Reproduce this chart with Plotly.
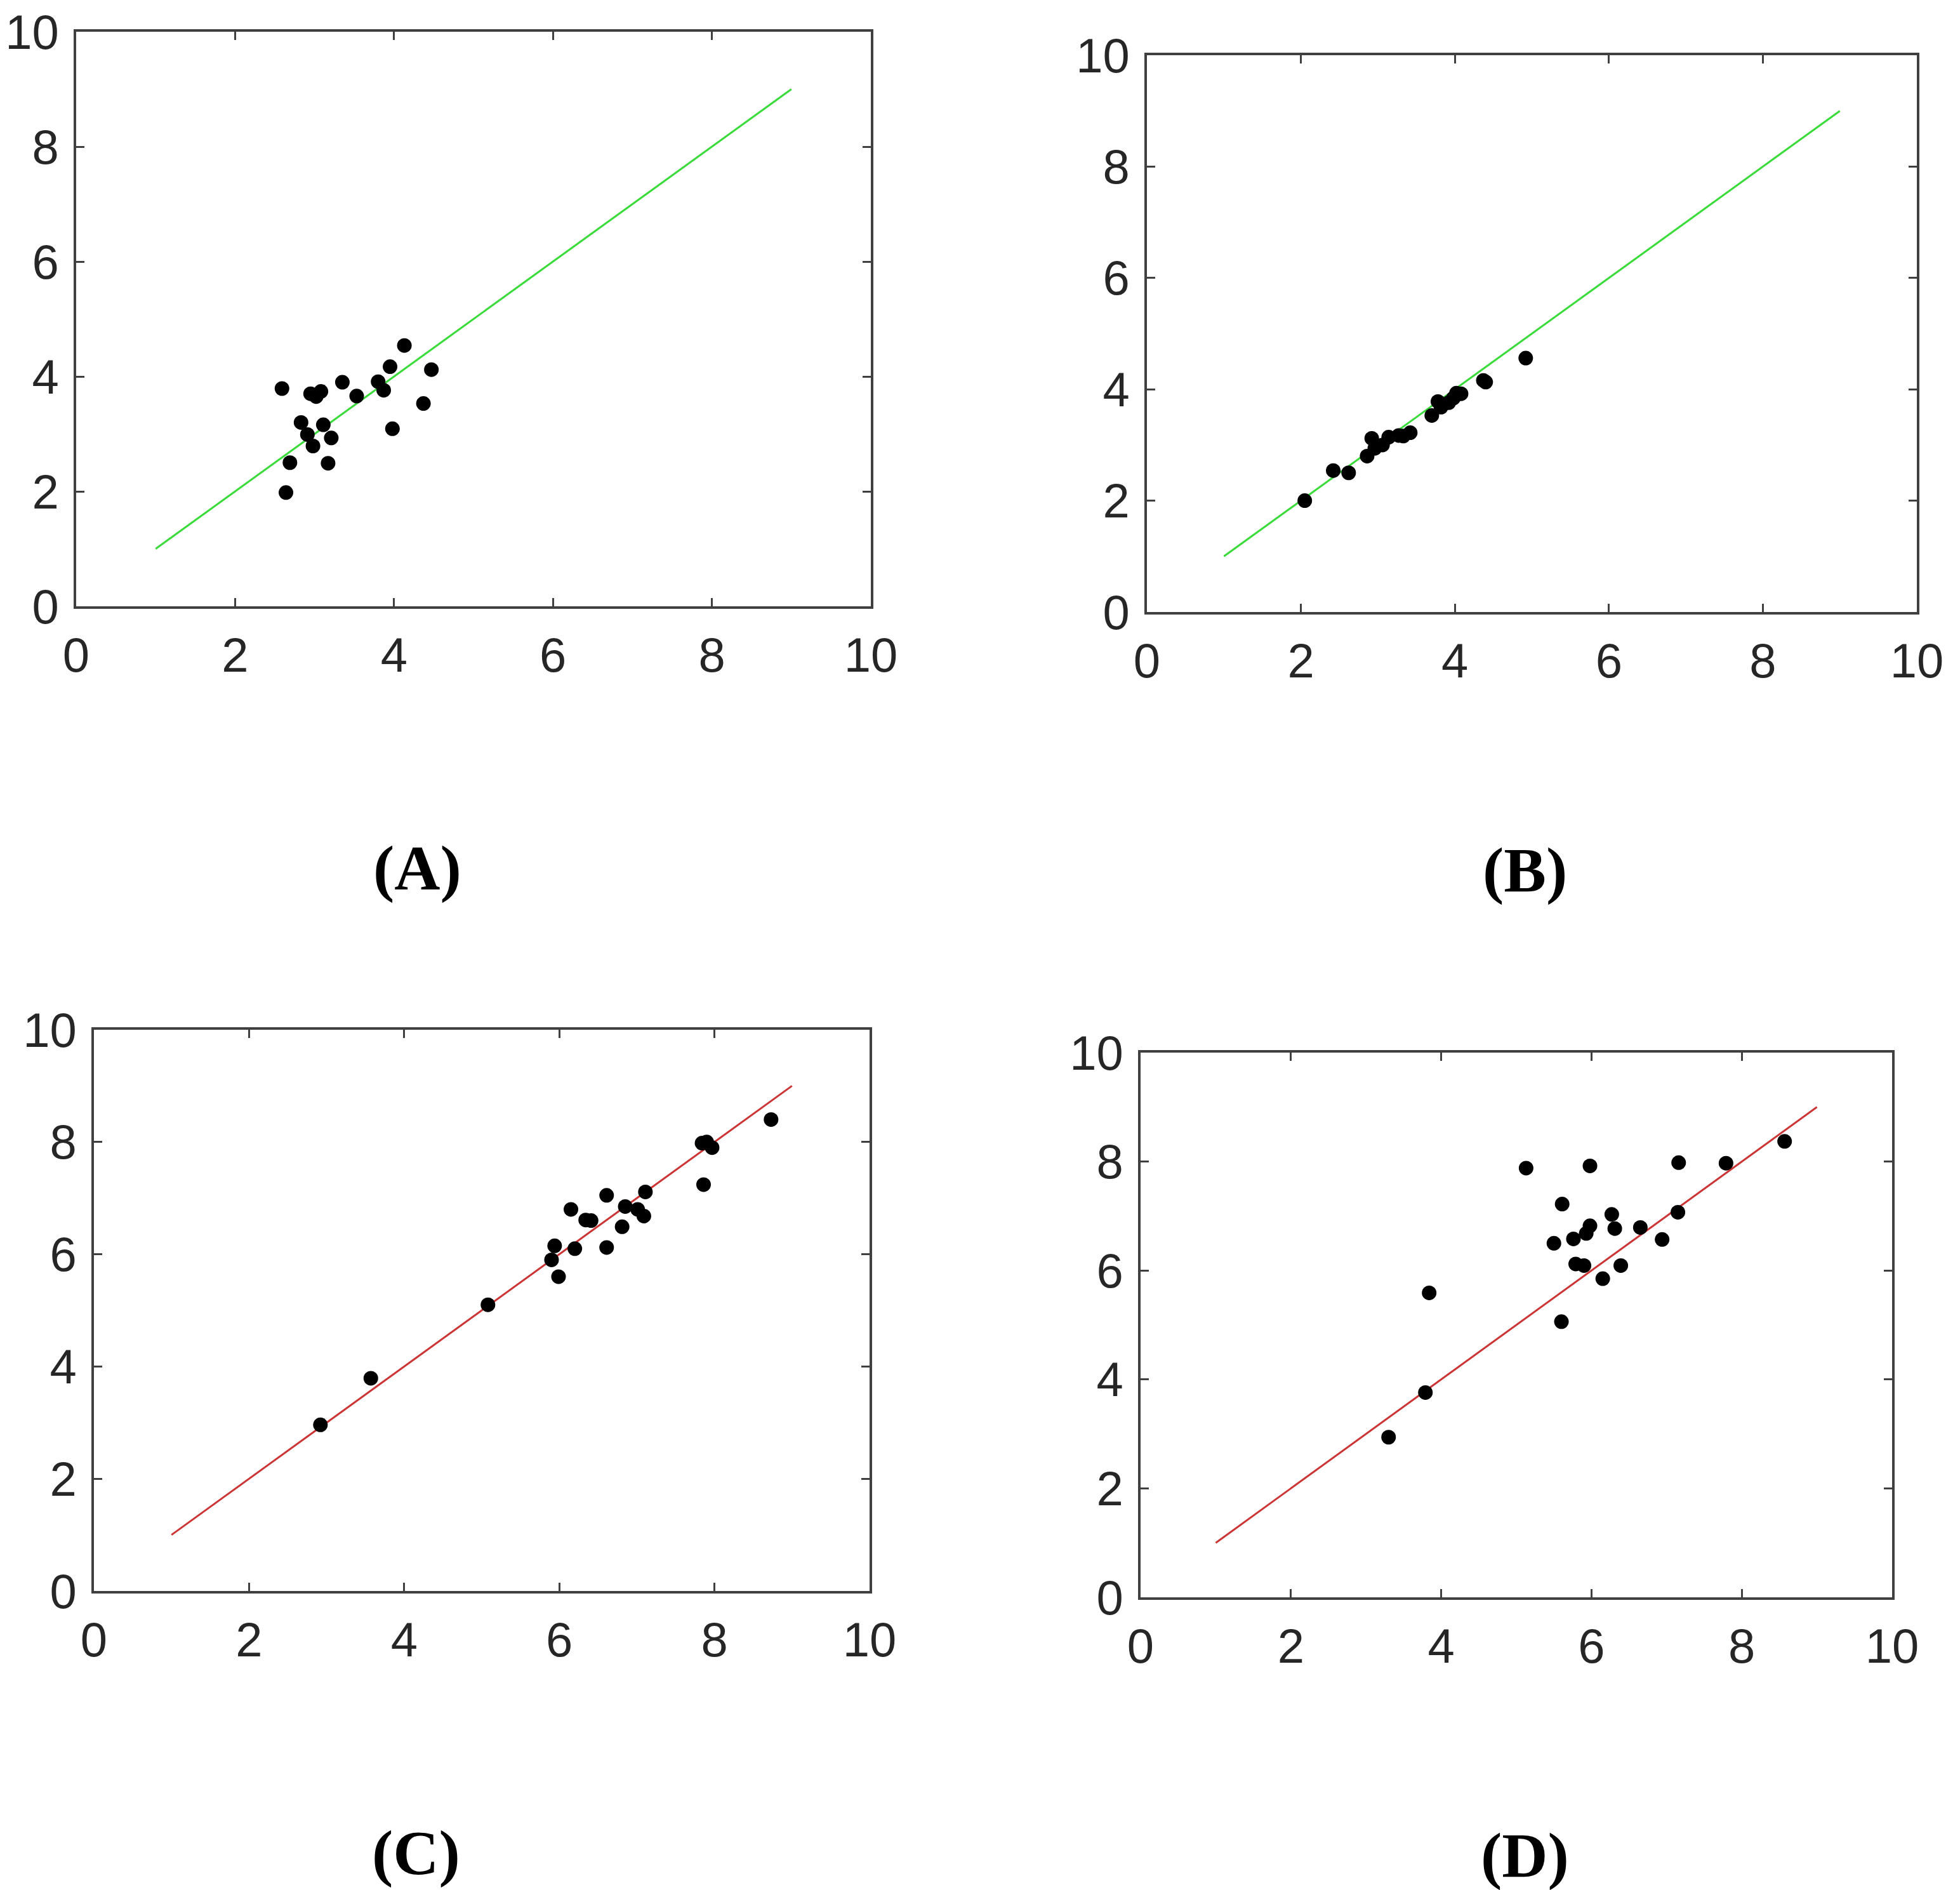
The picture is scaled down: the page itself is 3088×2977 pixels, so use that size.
import plotly.graph_objects as go

# ---------------- data ----------------
a_x = [2.59, 2.69, 2.64, 2.83, 2.91, 2.98, 2.95, 3.02, 3.08, 3.11, 3.21, 3.17,
       3.35, 3.53, 3.80, 3.87, 3.95, 3.98, 4.13, 4.37, 4.47]
a_y = [3.79, 2.50, 1.98, 3.20, 2.99, 2.79, 3.70, 3.65, 3.74, 3.16, 2.93, 2.49,
       3.90, 3.66, 3.91, 3.76, 4.17, 3.09, 4.54, 3.53, 4.12]

b_x = [2.05, 2.42, 2.62, 2.86, 2.92, 2.96, 3.06, 3.14, 3.27, 3.33, 3.42, 3.70,
       3.78, 3.82, 3.92, 3.98, 4.02, 4.08, 4.37, 4.40, 4.92]
b_y = [2.00, 2.54, 2.50, 2.80, 3.12, 2.94, 3.00, 3.14, 3.17, 3.16, 3.22, 3.53,
       3.78, 3.68, 3.76, 3.84, 3.93, 3.92, 4.16, 4.13, 4.56]

c_x = [2.92, 3.57, 5.08, 5.90, 5.94, 5.99, 6.15, 6.20, 6.34, 6.41, 6.61, 6.61,
       6.81, 6.85, 7.01, 7.09, 7.11, 7.84, 7.90, 7.97, 7.86, 8.73]
c_y = [2.96, 3.79, 5.10, 5.90, 6.15, 5.60, 6.80, 6.10, 6.61, 6.60, 7.05, 6.12,
       6.49, 6.85, 6.80, 6.68, 7.11, 7.98, 8.00, 7.90, 7.24, 8.40]

d_x = [3.30, 3.79, 3.84, 5.13, 5.50, 5.60, 5.61, 5.76, 5.79, 5.90, 5.93, 5.98,
       5.98, 6.15, 6.27, 6.31, 6.39, 6.65, 6.94, 7.15, 7.16, 7.79, 8.57]
d_y = [2.94, 3.76, 5.59, 7.88, 6.50, 5.06, 7.22, 6.58, 6.12, 6.09, 6.68, 6.82,
       7.92, 5.85, 7.03, 6.77, 6.09, 6.79, 6.57, 7.07, 7.98, 7.97, 8.37]

fit_x = [1, 9]
fit_y = [1, 9]

tick_vals = [0, 2, 4, 6, 8, 10]
tick_text = ["0", "2", "4", "6", "8", "10"]
panel_labels = ["(A)", "(B)", "(C)", "(D)"]

# ---------------- layout geometry (pixels) ----------------
W, H = 3088, 2977
boxes = [
    (120, 1372, 50, 955),
    (1807, 3020, 87, 964),
    (148, 1370, 1622, 2506),
    (1797, 2981, 1658, 2516),
]
label_pos = [(657, 1368), (2402, 1370), (655, 2918), (2402, 2922)]

line_colors = ["#38db38", "#38db38", "#cc3535", "#cc3535"]
series = [(a_x, a_y), (b_x, b_y), (c_x, c_y), (d_x, d_y)]

fig = go.Figure()
AX = "#404040"
TXT = "#262626"

for i, ((sx, sy), box, col) in enumerate(zip(series, boxes, line_colors)):
    n = i + 1
    xa = "x" if n == 1 else f"x{n}"
    ya = "y" if n == 1 else f"y{n}"
    fig.add_trace(go.Scatter(x=fit_x, y=fit_y, mode="lines",
                             line=dict(color=col, width=3),
                             xaxis=xa, yaxis=ya, showlegend=False, hoverinfo="skip"))
    fig.add_trace(go.Scatter(x=sx, y=sy, mode="markers",
                             marker=dict(color="black", size=23, line=dict(width=0)),
                             xaxis=xa, yaxis=ya, showlegend=False))
    l, r, t, b = box
    common = dict(range=[0, 10], tickvals=tick_vals, ticktext=tick_text,
                  showgrid=False, zeroline=False, showline=True, linecolor=AX,
                  linewidth=4, mirror="ticks", ticks="inside", ticklen=13,
                  tickwidth=3, tickcolor=AX, automargin=False,
                  tickfont=dict(family="Liberation Sans, Arial", size=76, color=TXT),
                  fixedrange=True)
    fig.layout[f"xaxis{'' if n == 1 else n}"] = dict(
        domain=[l / W, r / W], anchor=ya, ticklabelstandoff=8, **common)
    fig.layout[f"yaxis{'' if n == 1 else n}"] = dict(
        domain=[1 - b / H, 1 - t / H], anchor=xa, ticklabelstandoff=8, **common)

for txt, (px, py) in zip(panel_labels, label_pos):
    fig.add_annotation(text=f"<b>{txt}</b>", x=px / W, y=1 - py / H,
                       xref="paper", yref="paper", showarrow=False,
                       xanchor="center", yanchor="middle",
                       font=dict(family="Liberation Serif, Times New Roman", size=100,
                                 color="black"))

fig.update_layout(template="none", width=W, height=H,
                  margin=dict(l=0, r=0, t=0, b=0, pad=0, autoexpand=False),
                  paper_bgcolor="white", plot_bgcolor="white", showlegend=False)

fig.write_html("out.html", config={"displayModeBar": False})
with open("out.html", "r", encoding="utf-8") as f:
    html = f.read()
html = html.replace("<head>", "<head><style>html,body{margin:0;padding:0;overflow:hidden;}</style>", 1)
with open("out.html", "w", encoding="utf-8") as f:
    f.write(html)
